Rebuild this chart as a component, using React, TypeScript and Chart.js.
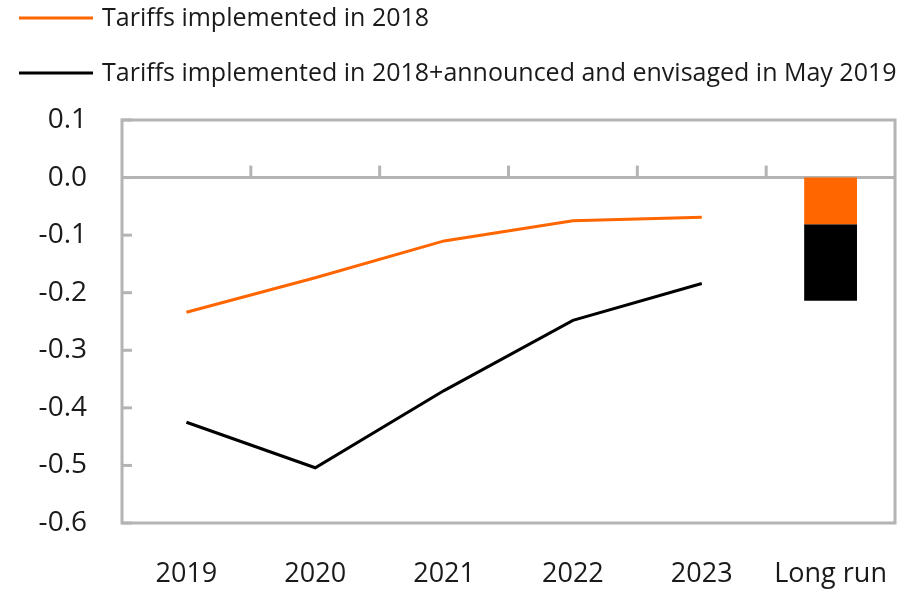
import React, { useEffect, useRef } from 'react';
import { Chart, registerables } from 'chart.js';

Chart.register(...registerables);

const categories = ['2019', '2020', '2021', '2022', '2023', 'Long run'];
const implemented2018 = [-0.234, -0.174, -0.11, -0.075, -0.069, null];
const implementedPlusAnnounced = [-0.425, -0.504, -0.37, -0.248, -0.184, null];
const longRun2018 = [null, null, null, null, null, -0.081];
const longRunAdditional = [null, null, null, null, null, -0.133];
const seriesLabels = [
  'Tariffs implemented in 2018',
  'Tariffs implemented in 2018+announced and envisaged in May 2019',
];
const yMin = -0.6;
const yMax = 0.1;
const yStep = 0.1;

const ORANGE = '#FF6600';
const BLACK = '#000000';
const FRAME = '#B4B4B4';
const TEXT = '#1a1a1a';
const FONT = "'Open Sans', sans-serif";

const framePlugin = {
  id: 'framePlugin',
  beforeDatasetsDraw(chart: any) {
    const { ctx, chartArea: a, scales } = chart;
    const x = scales.x;
    const y = scales.y;
    ctx.save();
    ctx.strokeStyle = FRAME;
    ctx.lineWidth = 3;
    const seg = (x1: number, y1: number, x2: number, y2: number) => {
      ctx.beginPath();
      ctx.moveTo(x1, y1);
      ctx.lineTo(x2, y2);
      ctx.stroke();
    };
    y.ticks.forEach((t: any) => {
      const py = y.getPixelForValue(t.value);
      seg(a.left, py, a.left + 10, py);
    });
    const y0 = y.getPixelForValue(0);
    seg(a.left, y0, a.right, y0);
    for (let i = 1; i < categories.length; i++) {
      const px = (x.getPixelForValue(i - 1) + x.getPixelForValue(i)) / 2;
      seg(px, y0, px, y0 - 12);
    }
    ctx.strokeRect(a.left, a.top, a.right - a.left, a.bottom - a.top);
    ctx.restore();
  },
};

const legendPlugin = {
  id: 'customLegend',
  afterDraw(chart: any) {
    const { ctx } = chart;
    const items = chart.data.datasets.filter((d: any) => d.type === 'line');
    ctx.save();
    ctx.font = `25px ${FONT}`;
    ctx.textBaseline = 'middle';
    ctx.textAlign = 'left';
    items.forEach((d: any, i: number) => {
      const cy = 18 + i * 55;
      ctx.strokeStyle = d.borderColor;
      ctx.lineWidth = 3;
      ctx.beginPath();
      ctx.moveTo(19, cy);
      ctx.lineTo(93, cy);
      ctx.stroke();
      ctx.fillStyle = TEXT;
      ctx.fillText(d.label, 102, cy + 1);
    });
    ctx.restore();
  },
};

export default function App() {
  const ref = useRef<HTMLCanvasElement | null>(null);
  useEffect(() => {
    if (!ref.current) return;
    const chart = new Chart(ref.current, {
      data: {
        labels: categories,
        datasets: [
          {
            type: 'line',
            label: seriesLabels[0],
            data: implemented2018,
            borderColor: ORANGE,
            backgroundColor: ORANGE,
            borderWidth: 3,
            pointRadius: 0,
            stack: 'l1',
            order: 0,
          },
          {
            type: 'line',
            label: seriesLabels[1],
            data: implementedPlusAnnounced,
            borderColor: BLACK,
            backgroundColor: BLACK,
            borderWidth: 3,
            pointRadius: 0,
            stack: 'l2',
            order: 0,
          },
          {
            type: 'bar',
            label: seriesLabels[0] + ' (long run)',
            data: longRun2018,
            backgroundColor: ORANGE,
            borderWidth: 0,
            stack: 'bar',
            categoryPercentage: 1,
            barPercentage: 0.41,
            order: 1,
          },
          {
            type: 'bar',
            label: 'Announced and envisaged (long run)',
            data: longRunAdditional,
            backgroundColor: BLACK,
            borderWidth: 0,
            stack: 'bar',
            categoryPercentage: 1,
            barPercentage: 0.41,
            order: 1,
          },
        ],
      } as any,
      options: {
        responsive: false,
        animation: false,
        layout: { padding: { top: 120, right: 9, left: 0, bottom: 0 } },
        plugins: { legend: { display: false }, tooltip: { enabled: false } },
        scales: {
          x: {
            offset: true,
            grid: { display: false, drawTicks: false },
            border: { display: false },
            ticks: {
              color: TEXT,
              font: { family: FONT, size: 27 },
              padding: 35,
              maxRotation: 0,
              autoSkip: false,
            },
            afterFit: (s: any) => {
              s.height = 66;
              s.paddingLeft = 0;
              s.paddingRight = 0;
            },
          },
          y: {
            stacked: true,
            min: yMin,
            max: yMax,
            grid: { display: false, drawTicks: false },
            border: { display: false },
            ticks: {
              stepSize: yStep,
              color: TEXT,
              font: { family: FONT, size: 28 },
              padding: 35,
              callback: (v: any) => (Math.abs(Number(v)) < 1e-9 ? '0.0' : Number(v).toFixed(1)),
            },
            afterFit: (s: any) => {
              s.width = 122;
            },
          },
        },
      } as any,
      plugins: [framePlugin, legendPlugin],
    });
    return () => chart.destroy();
  }, []);
  return (
    <canvas
      ref={ref}
      width={904}
      height={589}
      style={{ position: 'fixed', left: 0, top: 0, display: 'block', width: 904, height: 589 }}
    />
  );
}
